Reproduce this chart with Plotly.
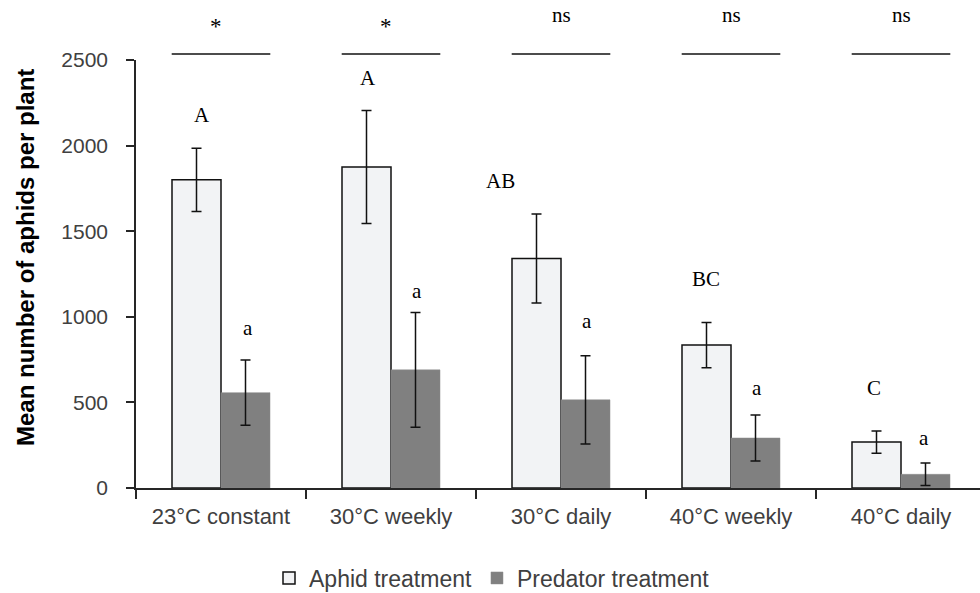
import plotly.graph_objects as go

categories = ["23°C constant", "30°C weekly", "30°C daily", "40°C weekly", "40°C daily"]
aphid_mean = [1800, 1875, 1340, 835, 268]
aphid_err = [185, 330, 260, 132, 65]
predator_mean = [557, 690, 515, 292, 80]
predator_err = [190, 335, 258, 135, 66]

sig_labels = ["*", "*", "ns", "ns", "ns"]
aphid_letters = ["A", "A", "AB", "BC", "C"]
aphid_letter_y = [2179, 2395, 1793, 1221, 584]
aphid_letter_dx = [-0.11, -0.135, -0.353, -0.147, -0.159]
pred_letters = ["a", "a", "a", "a", "a"]
pred_letter_y = [935, 1150, 975, 585, 293]
pred_letter_dx = [0.159, 0.153, 0.153, 0.153, 0.135]

fig = go.Figure()
fig.add_trace(go.Bar(
    x=categories, y=aphid_mean, name="Aphid treatment",
    marker=dict(color="#F2F3F5", line=dict(color="#111111", width=1.5)),
    error_y=dict(type="data", array=aphid_err, color="#111111", thickness=1.5, width=5),
))
fig.add_trace(go.Bar(
    x=categories, y=predator_mean, name="Predator treatment",
    marker=dict(color="#808080", line=dict(color="#8a8a8a", width=0.5)),
    error_y=dict(type="data", array=predator_err, color="#111111", thickness=1.5, width=5),
))

serif = "Liberation Serif, Times New Roman, serif"
PLOT_H = 428.0  # pixel height of the y domain (margins below)


def ypaper(px):
    return (488 - px) / PLOT_H


annotations = []
for i in range(len(categories)):
    annotations.append(dict(x=i + aphid_letter_dx[i], y=aphid_letter_y[i], xref="x", yref="y",
                            text=aphid_letters[i], showarrow=False,
                            font=dict(family=serif, size=21, color="#000000")))
    annotations.append(dict(x=i + pred_letter_dx[i], y=pred_letter_y[i], xref="x", yref="y",
                            text=pred_letters[i], showarrow=False,
                            font=dict(family=serif, size=21, color="#000000")))
    if sig_labels[i] == "*":
        annotations.append(dict(x=i - 0.03, y=ypaper(12), xref="x", yref="paper", text="*",
                                showarrow=False, font=dict(family=serif, size=23, color="#000000")))
    else:
        annotations.append(dict(x=i, y=ypaper(1), xref="x", yref="paper", text="ns",
                                showarrow=False, font=dict(family=serif, size=21, color="#000000")))

annotations.append(dict(x=(25 - 136) / 844, y=ypaper(258), xref="paper", yref="paper",
                        text="<b>Mean number of aphids per plant</b>", textangle=-90,
                        showarrow=False, xanchor="center", yanchor="middle",
                        font=dict(family="Liberation Sans, Arial, sans-serif", size=24, color="#000000")))

shapes = []
for i in range(len(categories)):
    shapes.append(dict(type="line", xref="x", yref="paper", x0=i - 0.29, x1=i + 0.29,
                       y0=ypaper(54), y1=ypaper(54), line=dict(color="#111111", width=1.5)))

fig.update_layout(
    width=980, height=593,
    margin=dict(l=136, r=0, t=60, b=105, autoexpand=False),
    plot_bgcolor="white", paper_bgcolor="white",
    barmode="group", bargap=0.4235, bargroupgap=0,
    annotations=annotations, shapes=shapes,
    font=dict(family="Liberation Sans, Arial, sans-serif", size=21, color="#404040"),
    legend=dict(orientation="h", x=(492 - 136) / 844, xanchor="center",
                y=ypaper(578), yanchor="middle",
                font=dict(size=23, color="#404040"), itemwidth=30),
    showlegend=True,
)
fig.update_xaxes(
    type="category", range=[-0.5, -0.5 + 844 / 170],
    showline=True, linecolor="#262626", linewidth=1.5,
    ticks="outside", tickson="boundaries", ticklen=9, tickwidth=1.5, tickcolor="#262626",
    tickfont=dict(size=22, color="#404040"), ticklabelstandoff=8,
    showgrid=False, zeroline=False,
)
fig.update_yaxes(
    range=[0, 2500], tickvals=[0, 500, 1000, 1500, 2000, 2500],
    showline=True, linecolor="#262626", linewidth=1.5,
    ticks="outside", ticklen=8, tickwidth=1.5, tickcolor="#262626",
    tickfont=dict(size=21, color="#404040"), ticklabelstandoff=14,
    showgrid=False, zeroline=False,
)

fig.write_html("out.html")
